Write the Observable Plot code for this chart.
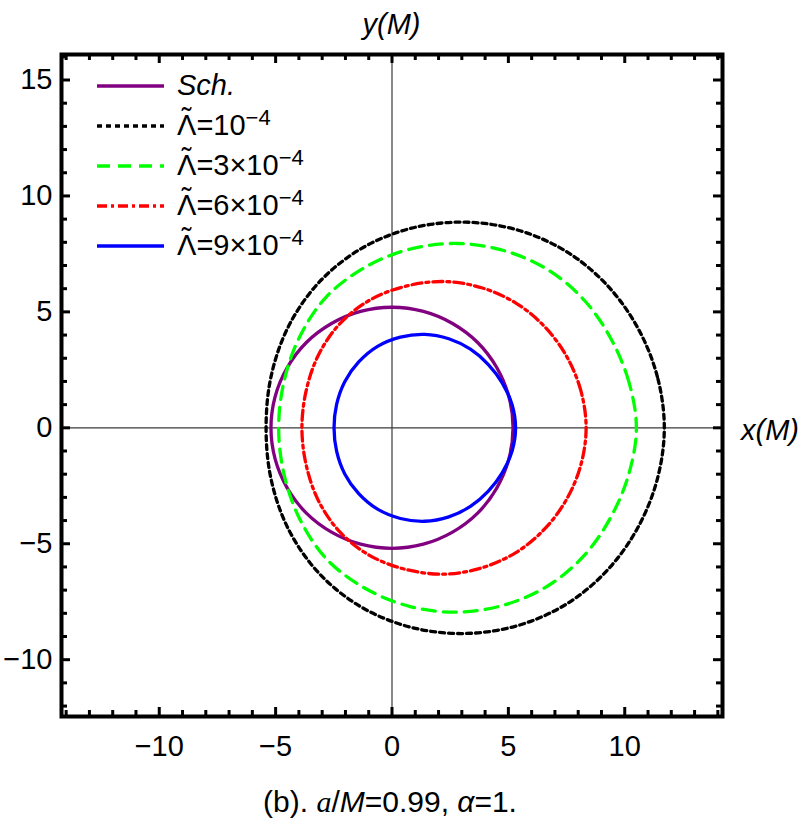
<!DOCTYPE html>
<html><head><meta charset="utf-8">
<script src="https://cdn.jsdelivr.net/npm/d3@7"></script>
<script src="https://cdn.jsdelivr.net/npm/@observablehq/plot@0.6"></script>
<style>body{margin:0;background:#fff;} svg{display:block;}</style>
</head><body><div id="chart"></div>
<script>
// Shadow contours (x(M), y(M)), counter-clockwise from the rightmost point
const schPts = [[5.2,0],[5.02,1.35],[4.50,2.60],[3.68,3.68],[2.60,4.50],[1.35,5.02],[0,5.2],[-1.35,5.02],[-2.60,4.50],[-3.68,3.68],[-4.50,2.60],[-5.02,1.35],[-5.2,0],[-5.02,-1.35],[-4.50,-2.60],[-3.68,-3.68],[-2.60,-4.50],[-1.35,-5.02],[0,-5.2],[1.35,-5.02],[2.60,-4.50],[3.68,-3.68],[4.50,-2.60],[5.02,-1.35]];
const lam1Pts = [[11.70,0],[11.40,2.21],[10.57,4.29],[9.27,6.12],[7.53,7.58],[5.43,8.52],[3.15,8.87],[0.84,8.61],[-1.32,7.73],[-3.13,6.28],[-4.44,4.39],[-5.19,2.24],[-5.41,0],[-5.19,-2.24],[-4.44,-4.39],[-3.13,-6.28],[-1.32,-7.73],[0.84,-8.61],[3.15,-8.87],[5.43,-8.52],[7.53,-7.58],[9.27,-6.12],[10.57,-4.29],[11.40,-2.21]];
const lam3Pts = [[10.50,0],[10.18,1.97],[9.42,3.82],[8.29,5.47],[6.74,6.79],[4.86,7.63],[2.82,7.95],[0.75,7.70],[-1.18,6.91],[-2.83,5.64],[-3.97,3.92],[-4.64,2.00],[-4.87,0],[-4.64,-2.00],[-3.97,-3.92],[-2.83,-5.64],[-1.18,-6.91],[0.75,-7.70],[2.82,-7.95],[4.86,-7.63],[6.74,-6.79],[8.29,-5.47],[9.42,-3.82],[10.18,-1.97]];
const lam6Pts = [[8.34,0],[8.12,1.58],[7.52,3.05],[6.58,4.34],[5.34,5.37],[3.85,6.04],[2.24,6.31],[0.60,6.11],[-0.95,5.51],[-2.25,4.48],[-3.17,3.12],[-3.69,1.59],[-3.87,0],[-3.69,-1.59],[-3.17,-3.12],[-2.25,-4.48],[-0.95,-5.51],[0.60,-6.11],[2.24,-6.31],[3.85,-6.04],[5.34,-5.37],[6.58,-4.34],[7.52,-3.05],[8.12,-1.58]];
const lam9Pts = [[5.31,0],[5.16,1.00],[4.74,1.93],[4.14,2.73],[3.37,3.39],[2.44,3.84],[1.41,4.03],[0.36,3.91],[-0.62,3.51],[-1.43,2.84],[-2.03,1.99],[-2.38,1.01],[-2.49,0],[-2.38,-1.01],[-2.03,-1.99],[-1.43,-2.84],[-0.62,-3.51],[0.36,-3.91],[1.41,-4.03],[2.44,-3.84],[3.37,-3.39],[4.14,-2.73],[4.74,-1.93],[5.16,-1.00]];

const seriesPts = [schPts, lam1Pts, lam3Pts, lam6Pts, lam9Pts];
const seriesNames = ["Sch.", "=10", "=3\u00D710", "=6\u00D710", "=9\u00D710"];
const seriesExp = ["", "\u22124", "\u22124", "\u22124", "\u22124"];
const seriesColors = ["#800080", "#000000", "#00ff00", "#ff0000", "#0000ff"];
const seriesDash = [null, "5,4", "13,8", "10,4,3,4", null];

const xMajor = [-10, -5, 0, 5, 10];
const xMinor = [-14,-13,-12,-11,-9,-8,-7,-6,-4,-3,-2,-1,1,2,3,4,6,7,8,9,11,12,13,14];
const yMajor = [-10, -5, 0, 5, 10, 15];
const yMinor = [-12,-11,-9,-8,-7,-6,-4,-3,-2,-1,1,2,3,4,6,7,8,9,11,12,13,14,16];

const W = 806, H = 821, mL = 61, mR = 84, mT = 54, mB = 105;
const iw = W - mL - mR, ih = H - mT - mB;
const FONT = "'Liberation Sans', Arial, Helvetica, sans-serif";
const FS = 29;

const curveMarks = seriesPts.map((pts, i) => Plot.line(pts, {
  x: d => d[0], y: d => d[1], stroke: seriesColors[i], strokeWidth: 3.3,
  strokeDasharray: seriesDash[i] || undefined, curve: "catmull-rom-closed"
}));

const plot = Plot.plot({
  width: W, height: H,
  marginLeft: mL, marginRight: mR, marginTop: mT, marginBottom: mB,
  x: {domain: [-14.2, 14.2]},
  y: {domain: [-12.45, 16.1]},
  style: {fontFamily: FONT, background: "#fff", color: "#000"},
  marks: [
    Plot.ruleX([0], {stroke: "#3a3a3a", strokeWidth: 1.2}),
    Plot.ruleY([0], {stroke: "#3a3a3a", strokeWidth: 1.2}),
    ...curveMarks,
    // inward frame ticks
    Plot.ruleX(xMinor, {x: d => d, insetTop: ih - 6, strokeWidth: 3}),
    Plot.ruleX(xMinor, {x: d => d, insetBottom: ih - 6, strokeWidth: 3}),
    Plot.ruleX(xMajor, {x: d => d, insetTop: ih - 9, strokeWidth: 3}),
    Plot.ruleX(xMajor, {x: d => d, insetBottom: ih - 9, strokeWidth: 3}),
    Plot.ruleY(yMinor, {y: d => d, insetRight: iw - 6, strokeWidth: 3}),
    Plot.ruleY(yMinor, {y: d => d, insetLeft: iw - 6, strokeWidth: 3}),
    Plot.ruleY(yMajor, {y: d => d, insetRight: iw - 9, strokeWidth: 3}),
    Plot.ruleY(yMajor, {y: d => d, insetLeft: iw - 9, strokeWidth: 3}),
    Plot.axisX(xMajor, {anchor: "bottom", tickSize: 0, tickPadding: 19, fontSize: FS, label: null}),
    Plot.axisY(yMajor, {anchor: "left", tickSize: 0, tickPadding: 9, fontSize: FS, label: null}),
    Plot.frame({stroke: "#000", strokeWidth: 4})
  ]
});
document.getElementById("chart").append(plot);

const svg = d3.select(plot);
const xs = plot.scale("x"), ys = plot.scale("y");
const ann = svg.append("g").attr("font-family", FONT).attr("font-size", FS)
  .attr("fill", "#000").attr("text-anchor", "start");

// axis labels
ann.append("text").attr("x", xs.apply(0)).attr("y", 34).attr("text-anchor", "middle")
  .attr("font-style", "italic").text("y(M)");
ann.append("text").attr("x", W - mR + 19).attr("y", ys.apply(0) + 13)
  .attr("font-style", "italic").text("x(M)");

// width of the capital Lambda, for centring the tilde
const probe = ann.append("text").text("\u039B");
const lw = probe.node().getComputedTextLength();
probe.remove();

// legend
const lg = ann.append("g");
seriesNames.forEach((name, i) => {
  const yy = 86 + i * 40, x0 = 177, base = yy + 9;
  lg.append("line").attr("x1", 97).attr("x2", 164).attr("y1", yy).attr("y2", yy)
    .attr("stroke", seriesColors[i]).attr("stroke-width", 3.5)
    .attr("stroke-dasharray", seriesDash[i]);
  const t = lg.append("text").attr("x", x0).attr("y", base);
  if (i === 0) { t.attr("font-style", "italic").text(name); return; }
  t.append("tspan").text("\u039B");
  t.append("tspan").attr("x", x0 + lw / 2).attr("y", base - 7).attr("text-anchor", "middle").text("\u02DC");
  t.append("tspan").attr("x", x0 + lw).attr("y", base).attr("text-anchor", "start").text(name);
  t.append("tspan").attr("font-size", 22).attr("dy", -10).text(seriesExp[i]);
});

// caption
const cap = ann.append("text").attr("x", 390).attr("y", 812).attr("text-anchor", "middle").attr("font-size", 30);
cap.append("tspan").text("(b). ");
cap.append("tspan").attr("font-family", "'Liberation Serif', serif").attr("font-style", "italic").text("a");
cap.append("tspan").text("/");
cap.append("tspan").attr("font-style", "italic").text("M");
cap.append("tspan").text("=0.99, ");
cap.append("tspan").attr("font-style", "italic").text("\u03B1");
cap.append("tspan").text("=1.");
</script>
</body></html>
